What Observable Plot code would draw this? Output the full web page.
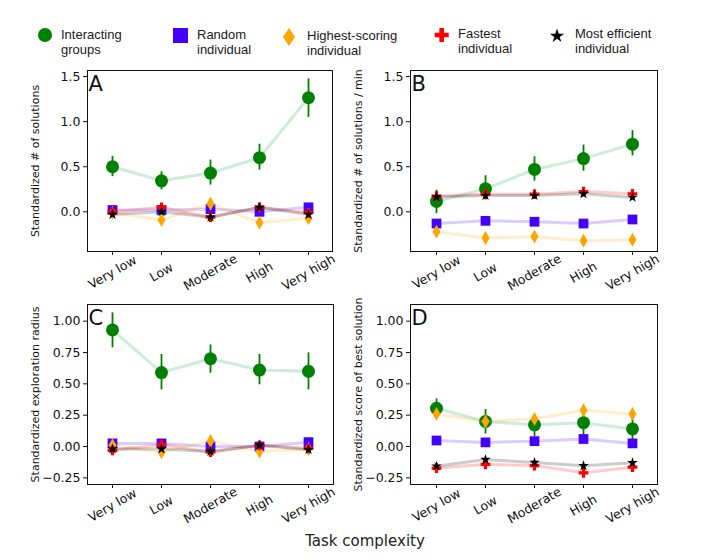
<!DOCTYPE html>
<html><head><meta charset="utf-8">
<script src="https://cdn.jsdelivr.net/npm/d3@7"></script>
<script src="https://cdn.jsdelivr.net/npm/@observablehq/plot@0.6"></script>
<style>
body{margin:0;background:#fff;}
#wrap{position:relative;width:707px;height:560px;overflow:hidden;font-family:"DejaVu Sans",sans-serif;}
.panel{position:absolute;}
.leg{position:absolute;top:27px;font:13px/15px "Liberation Sans",Arial,sans-serif;color:#1a1a1a;white-space:nowrap;}
#xlab{position:absolute;left:265px;width:200px;top:532px;text-align:center;font:15px "DejaVu Sans",sans-serif;color:#222;}
</style></head><body><div id="wrap"></div>
<script>
// categories
const complexity = ["Very low", "Low", "Moderate", "High", "Very high"];
const seriesNames = ["Interacting groups", "Random individual", "Highest-scoring individual", "Fastest individual", "Most efficient individual"];

// Panel A: Standardized # of solutions
const aGroups    = [0.50, 0.344, 0.43, 0.60, 1.265];
const aGroupsLo  = [0.39, 0.244, 0.296, 0.463, 1.048];
const aGroupsHi  = [0.615, 0.444, 0.574, 0.75, 1.474];
const aRandom    = [0.02, 0.02, 0.03, 0.00, 0.05];
const aHighest   = [-0.01, -0.09, 0.09, -0.12, -0.07];
const aFastest   = [0.00, 0.05, -0.06, 0.05, -0.01];
const aEfficient = [-0.03, 0.00, -0.06, 0.05, -0.03];

// Panel B: Standardized # of solutions / min
const bGroups    = [0.115, 0.255, 0.47, 0.59, 0.75];
const bGroupsLo  = [-0.02, 0.13, 0.34, 0.45, 0.62];
const bGroupsHi  = [0.24, 0.40, 0.61, 0.74, 0.90];
const bRandom    = [-0.13, -0.10, -0.11, -0.13, -0.085];
const bHighest   = [-0.22, -0.29, -0.275, -0.32, -0.31];
const bFastest   = [0.175, 0.195, 0.195, 0.225, 0.20];
const bEfficient = [0.165, 0.18, 0.18, 0.20, 0.16];

// Panel C: Standardized exploration radius
const cGroups    = [0.93, 0.59, 0.70, 0.61, 0.60];
const cGroupsLo  = [0.787, 0.452, 0.585, 0.492, 0.452];
const cGroupsHi  = [1.066, 0.734, 0.81, 0.734, 0.747];
const cRandom    = [0.025, 0.025, 0.00, 0.00, 0.035];
const cHighest   = [0.01, -0.045, 0.045, -0.04, -0.02];
const cFastest   = [-0.03, 0.015, -0.045, 0.01, -0.015];
const cEfficient = [-0.02, -0.02, -0.04, 0.01, -0.025];

// Panel D: Standardized score of best solution
const dGroups    = [0.305, 0.20, 0.173, 0.19, 0.14];
const dGroupsLo  = [0.226, 0.10, 0.08, 0.075, 0.04];
const dGroupsHi  = [0.38, 0.295, 0.247, 0.287, 0.247];
const dRandom    = [0.048, 0.033, 0.043, 0.06, 0.025];
const dHighest   = [0.26, 0.20, 0.22, 0.29, 0.26];
const dFastest   = [-0.173, -0.142, -0.152, -0.21, -0.165];
const dEfficient = [-0.157, -0.104, -0.128, -0.154, -0.13];

// tick labels
const ticksAB = [0, 0.5, 1.0, 1.5];
const ticksCD = [-0.25, 0, 0.25, 0.5, 0.75, 1.0];

const styles = [
  {fill: "#008000", line: "#3cb371", symbol: "circle", r: 6.5},
  {fill: "#4400ff", line: "#4400ff", symbol: "square", r: 5.5},
  {fill: "#ffa500", line: "#ffa500", symbol: "diamond", r: 4.2},
  {fill: "#ff0000", line: "#ff0000", symbol: "cross", r: 4.1},
  {fill: "#000000", line: "#000000", symbol: "star", r: 3.3}
];

function makePanel(cfg) {
  const series = cfg.series;
  const marks = [];
  series.forEach((vals, si) => {
    const st = styles[si];
    const data = complexity.map((c, i) => ({c, v: vals[i]}));
    marks.push(Plot.line(data, {x: "c", y: "v", stroke: st.line, strokeOpacity: si === 0 ? 0.25 : 0.2, strokeWidth: 3}));
    if (si === 0) {
      const err = complexity.map((c, i) => ({c, lo: cfg.lo[i], hi: cfg.hi[i]}));
      marks.push(Plot.ruleX(err, {x: "c", y1: "lo", y2: "hi", stroke: "#008000", strokeWidth: 1.8}));
    }
    marks.push(Plot.dot(data, {x: "c", y: "v", symbol: st.symbol, r: st.r, fill: st.fill, stroke: "none"}));
  });
  const plot = Plot.plot({
    width: cfg.width, height: cfg.height,
    marginLeft: cfg.ml, marginRight: cfg.mr, marginTop: cfg.mt, marginBottom: cfg.mb,
    style: {fontFamily: "DejaVu Sans", fontSize: "12.5px", background: "transparent", overflow: "visible", color: "#111"},
    x: {type: "point", domain: complexity, padding: 0.5},
    y: {domain: cfg.domain},
    marks: [
      ...marks,
      Plot.frame({stroke: "#111", strokeWidth: 1}),
      Plot.axisY({ticks: cfg.ticks, tickFormat: d3.format(cfg.fmt), tickSize: 4, tickPadding: 3, label: null, fontSize: 12.5}),
      Plot.axisX({tickSize: 4, tickFormat: () => "", label: null}),
      Plot.text(complexity, {x: d => d, frameAnchor: "bottom", dy: 21, rotate: -30, textAnchor: "middle", lineAnchor: "middle", fontSize: 12.5}),
      Plot.text([cfg.letter], {frameAnchor: "top-left", dx: 1, dy: 6, fontSize: 21, textAnchor: "start", lineAnchor: "top"}),
      Plot.text([cfg.ylabel], {frameAnchor: "left", dx: -52, rotate: -90, textAnchor: "middle", lineAnchor: "middle", fontSize: 11})
    ]
  });
  plot.classList.add("panel");
  plot.style.left = cfg.left + "px";
  plot.style.top = cfg.top + "px";
  plot.style.position = "absolute";
  return plot;
}

const wrap = document.getElementById("wrap");
const domAB = [-0.44, 1.567], domCD = [-0.303, 1.133];
wrap.appendChild(makePanel({letter: "A", ylabel: "Standardized # of solutions", domain: domAB, ticks: ticksAB, fmt: ".1f",
  series: [aGroups, aRandom, aHighest, aFastest, aEfficient], lo: aGroupsLo, hi: aGroupsHi,
  left: 0, top: 60, width: 345, height: 235, ml: 87, mr: 13, mt: 10, mb: 44}));
wrap.appendChild(makePanel({letter: "B", ylabel: "Standardized # of solutions / min", domain: domAB, ticks: ticksAB, fmt: ".1f",
  series: [bGroups, bRandom, bHighest, bFastest, bEfficient], lo: bGroupsLo, hi: bGroupsHi,
  left: 345, top: 60, width: 345, height: 235, ml: 65, mr: 33, mt: 10, mb: 44}));
wrap.appendChild(makePanel({letter: "C", ylabel: "Standardized exploration radius", domain: domCD, ticks: ticksCD, fmt: ".2f",
  series: [cGroups, cRandom, cHighest, cFastest, cEfficient], lo: cGroupsLo, hi: cGroupsHi,
  left: 0, top: 294, width: 345, height: 232, ml: 87, mr: 12, mt: 10, mb: 42}));
wrap.appendChild(makePanel({letter: "D", ylabel: "Standardized score of best solution", domain: domCD, ticks: ticksCD, fmt: ".2f",
  series: [dGroups, dRandom, dHighest, dFastest, dEfficient], lo: dGroupsLo, hi: dGroupsHi,
  left: 345, top: 294, width: 345, height: 232, ml: 65, mr: 33, mt: 10, mb: 42}));

// Legend
const legMarkX = [45, 180.5, 289, 441.7, 557];
const legMarkY = [35, 35.5, 37, 35, 36];
const legTextX = [61, 197, 307, 458, 575];
const legTextTop = [27, 27, 28, 26, 26];
const svgNS = "http://www.w3.org/2000/svg";
const lsvg = document.createElementNS(svgNS, "svg");
lsvg.setAttribute("width", 707); lsvg.setAttribute("height", 60);
lsvg.style.position = "absolute"; lsvg.style.left = "0px"; lsvg.style.top = "0px";
const legSyms = [
  d3.symbol(d3.symbolCircle, Math.PI * 49),
  d3.symbol(d3.symbolSquare, 225),
  null,
  d3.symbol(d3.symbolCross, 109),
  d3.symbol(d3.symbolStar, 63)
];
styles.forEach((st, i) => {
  const p = document.createElementNS(svgNS, "path");
  const x = legMarkX[i], y = legMarkY[i];
  if (legSyms[i]) p.setAttribute("d", legSyms[i]());
  else p.setAttribute("d", "M0,-9L6,0L0,9L-6,0Z");
  p.setAttribute("transform", `translate(${x},${y})`);
  p.setAttribute("fill", st.fill);
  lsvg.appendChild(p);
});
wrap.appendChild(lsvg);
seriesNames.forEach((name, i) => {
  const d = document.createElement("div");
  d.className = "leg";
  d.style.left = legTextX[i] + "px";
  d.style.top = legTextTop[i] + "px";
  const parts = name.split(" ");
  d.innerHTML = parts[0] + (parts.length > 2 ? " " + parts[1] : "") + "<br>" + parts[parts.length - 1];
  wrap.appendChild(d);
});

const xl = document.createElement("div");
xl.id = "xlab"; xl.textContent = "Task complexity";
wrap.appendChild(xl);
</script>
</body></html>
